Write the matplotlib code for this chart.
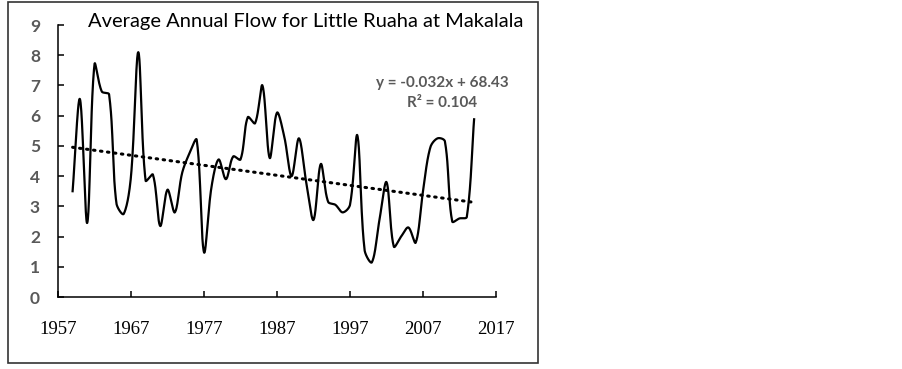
"""Average annual flow, Little Ruaha at Makalala, with linear trend"""
import numpy as np
import matplotlib; matplotlib.use('Agg'); import matplotlib.pyplot as plt
from matplotlib.patches import Rectangle

years = np.arange(1959, 2015)
flow = [3.5, 6.55, 2.45, 7.7, 6.8, 6.7, 3.1, 2.75, 4.0, 8.1,
        3.85, 4.05, 2.35, 3.55, 2.8, 4.1, 4.75, 5.2, 1.48, 3.6,
        4.55, 3.9, 4.65, 4.55, 5.95, 5.75, 7.0, 4.6, 6.1, 5.3,
        4.0, 5.25, 3.8, 2.55, 4.4, 3.15, 3.05, 2.8, 3.05, 5.35,
        1.55, 1.15, 2.5, 3.8, 1.67, 2.0, 2.3, 1.8, 3.5, 4.95,
        5.25, 5.15, 2.5, 2.6, 2.65, 5.88]
x_ticks = [1957, 1967, 1977, 1987, 1997, 2007, 2017]
y_ticks = list(range(10))
title = 'Average Annual Flow for Little Ruaha at Makalala'
eq_text = 'y = -0.032x + 68.43\nR² = 0.104'

# pixel scale of the plot area, used so the smoothing works in screen space
PX_X, PX_Y = 438 / 60, 272 / 9

def smooth(x, y, n=24):
    # Excel-like smoothed line: bezier segments, control arms scaled by chord length
    p = np.column_stack([np.asarray(x) * PX_X, np.asarray(y) * PX_Y]).astype(float)
    ext = np.vstack([p[0], p, p[-1]])
    t = np.linspace(0, 1, n, endpoint=False)[:, None]
    out = []
    for i in range(len(p) - 1):
        p0, p1, p2, p3 = ext[i], ext[i+1], ext[i+2], ext[i+3]
        d01 = np.linalg.norm(p1 - p0); d12 = np.linalg.norm(p2 - p1); d23 = np.linalg.norm(p3 - p2)
        s1 = d12 / (d01 + d12) if d01 + d12 > 0 else 0
        s2 = d12 / (d12 + d23) if d12 + d23 > 0 else 0
        c1 = p1 + (p2 - p0) * s1 / 3
        c2 = p2 - (p3 - p1) * s2 / 3
        seg = ((1-t)**3)*p1 + 3*((1-t)**2)*t*c1 + 3*(1-t)*t**2*c2 + t**3*p2
        out.append(seg)
    out.append(p[-1][None, :])
    out = np.vstack(out)
    return out[:, 0] / PX_X, out[:, 1] / PX_Y

fig = plt.figure(figsize=(9.03, 3.69), dpi=100)
ax = fig.add_axes([58/903, 72/369, 438/903, 272/369])

sx, sy = smooth(years, flow)
ax.plot(sx, sy, color='black', lw=1.6, solid_joinstyle='round')

k, b = np.polyfit(years, flow, 1)
ax.plot(years, k*years + b, color='black', lw=2.2, linestyle=(0, (0.5, 1.8)),
        dash_capstyle='round')

ax.set_xlim(1957, 2017); ax.set_ylim(0, 9)
ax.set_xticks(x_ticks); ax.set_yticks(y_ticks)
for s in ['top', 'right']:
    ax.spines[s].set_visible(False)
for s in ['left', 'bottom']:
    ax.spines[s].set_linewidth(1.1)
ax.tick_params(direction='in', length=4, width=1.1)
ax.tick_params(axis='x', pad=17)
ax.tick_params(axis='y', pad=13)
for lab in ax.get_xticklabels():
    lab.set_fontfamily('Liberation Serif'); lab.set_fontsize(13.5)
for lab in ax.get_yticklabels():
    lab.set_fontfamily('Lato'); lab.set_fontsize(12.5)
    lab.set_fontweight('bold'); lab.set_color('#595959')

fig.text(306/903, 1 - 22/369, title, ha='center', va='center',
         fontsize=14.5, family='Lato')
fig.text(442/903, 1 - 93/369, eq_text, ha='center', va='center',
         fontsize=11, family='Lato', fontweight='bold', color='#595959',
         linespacing=1.55)

fig.patches.append(Rectangle((8/903, 6/369), 530/903, 361/369,
                             transform=fig.transFigure, fill=False,
                             edgecolor='#333333', lw=1.2))

fig.savefig('out.png', dpi=100, facecolor='white')
plt.close()
